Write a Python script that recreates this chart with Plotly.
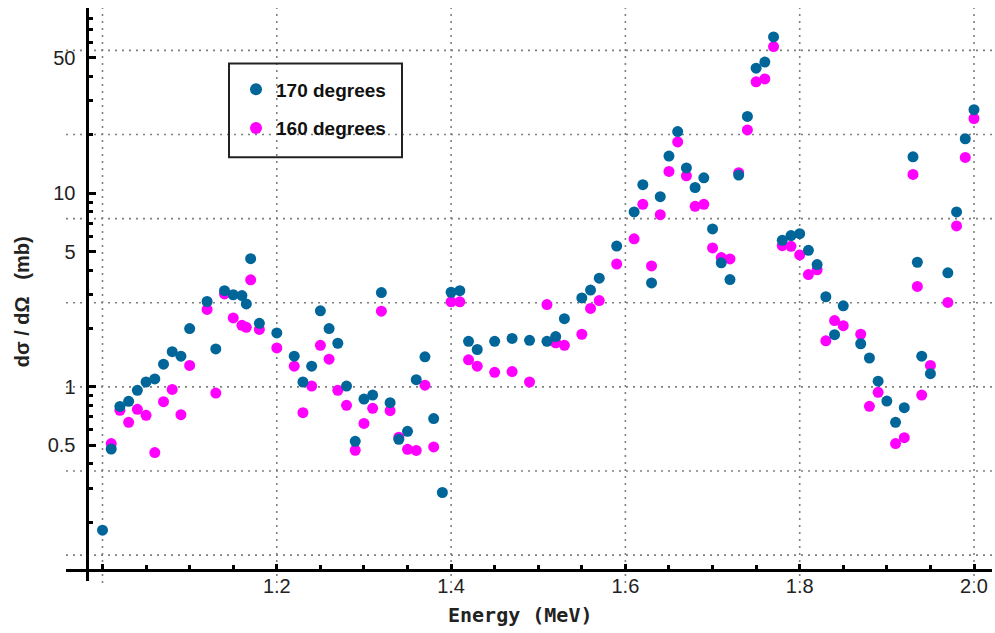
import math
import plotly.graph_objects as go

# Differential cross section vs. proton energy at two detector angles
energy_170 = [1.00, 1.01, 1.02, 1.03, 1.04, 1.05, 1.06, 1.07, 1.08, 1.09, 1.10, 1.12, 1.13, 1.14,
              1.15, 1.16, 1.165, 1.17, 1.18, 1.20, 1.22, 1.23, 1.24, 1.25, 1.26, 1.27, 1.28, 1.29,
              1.30, 1.31, 1.32, 1.33, 1.34, 1.35, 1.36, 1.37, 1.38, 1.39, 1.40, 1.41, 1.42, 1.43,
              1.45, 1.47, 1.49, 1.51, 1.52, 1.53, 1.55, 1.56, 1.57, 1.59, 1.61, 1.62, 1.63, 1.64,
              1.65, 1.66, 1.67, 1.68, 1.69, 1.70, 1.71, 1.72, 1.73, 1.74, 1.75, 1.76, 1.77, 1.78,
              1.79, 1.80, 1.81, 1.82, 1.83, 1.84, 1.85, 1.87, 1.88, 1.89, 1.90, 1.91, 1.92, 1.93,
              1.935, 1.94, 1.95, 1.97, 1.98, 1.99, 2.00]
sigma_170 = [0.182, 0.478, 0.793, 0.842, 0.96, 1.06, 1.10, 1.31, 1.52, 1.44, 2.00, 2.76, 1.57, 3.14,
             2.99, 2.96, 2.68, 4.59, 2.13, 1.90, 1.44, 1.06, 1.28, 2.47, 2.00, 1.68, 1.01, 0.524,
             0.865, 0.908, 3.07, 0.829, 0.536, 0.59, 1.09, 1.43, 0.686, 0.285, 3.08, 3.14, 1.72, 1.56,
             1.72, 1.78, 1.74, 1.72, 1.82, 2.25, 2.88, 3.16, 3.64, 5.33, 8.0, 11.06, 3.44, 9.59,
             15.55, 20.8, 13.5, 10.7, 12.0, 6.54, 4.37, 3.58, 12.4, 24.9, 44.2, 47.5, 64.1, 5.71,
             6.04, 6.18, 5.07, 4.28, 2.92, 1.86, 2.62, 1.67, 1.41, 1.07, 0.845, 0.656, 0.781, 15.4,
             4.40, 1.44, 1.17, 3.88, 8.0, 19.1, 27.0]

energy_160 = [1.01, 1.02, 1.03, 1.04, 1.05, 1.06, 1.07, 1.08, 1.09, 1.10, 1.12, 1.13, 1.14,
              1.15, 1.16, 1.165, 1.17, 1.18, 1.20, 1.22, 1.23, 1.24, 1.25, 1.26, 1.27, 1.28, 1.29,
              1.30, 1.31, 1.32, 1.33, 1.34, 1.35, 1.36, 1.37, 1.38, 1.40, 1.41, 1.42, 1.43,
              1.45, 1.47, 1.49, 1.51, 1.52, 1.53, 1.55, 1.56, 1.57, 1.59, 1.61, 1.62, 1.63, 1.64,
              1.65, 1.66, 1.67, 1.68, 1.69, 1.70, 1.71, 1.72, 1.73, 1.74, 1.75, 1.76, 1.77, 1.78,
              1.79, 1.80, 1.81, 1.82, 1.83, 1.84, 1.85, 1.87, 1.88, 1.89, 1.91, 1.92, 1.93,
              1.935, 1.94, 1.95, 1.97, 1.98, 1.99, 2.00]
sigma_160 = [0.51, 0.757, 0.656, 0.766, 0.713, 0.458, 0.839, 0.97, 0.719, 1.29, 2.51, 0.929, 3.02,
             2.27, 2.08, 2.03, 3.57, 1.98, 1.59, 1.28, 0.736, 1.01, 1.64, 1.39, 0.96, 0.803, 0.471,
             0.648, 0.775, 2.46, 0.754, 0.55, 0.476, 0.47, 1.02, 0.49, 2.75, 2.75, 1.38, 1.28,
             1.19, 1.20, 1.06, 2.66, 1.69, 1.64, 1.87, 2.54, 2.79, 4.31, 5.81, 8.76, 4.21, 7.75,
             12.95, 18.4, 12.3, 8.55, 8.76, 5.22, 4.65, 4.58, 12.76, 21.2, 37.6, 38.9, 57.1, 5.36,
             5.32, 4.80, 3.80, 4.02, 1.73, 2.20, 2.07, 1.87, 0.794, 0.937, 0.51, 0.547, 12.5,
             3.30, 0.908, 1.29, 2.73, 6.78, 15.3, 24.3]

x_tick_vals = [1.0, 1.2, 1.4, 1.6, 1.8, 2.0]
x_tick_text = ["", "1.2", "1.4", "1.6", "1.8", "2.0"]
y_tick_vals = [0.5, 1, 5, 10, 50]
y_tick_text = ["0.5", "1", "5", "10", "50"]
y_minor_vals = [m * 10.0 ** d for d in (-1, 0, 1) for m in range(1, 10)
                if m * 10.0 ** d not in y_tick_vals and m * 10.0 ** d <= 90]
y_grid_vals = [math.exp(k) for k in range(-2, 5)]

W, H = 995, 633
L, R, T, B = 66, 3, 7.5, 52
plot_w = W - L - R
plot_h = H - T - B


def px_x(px):
    return (px - L) / plot_w


def px_y(py):
    return (H - B - py) / plot_h


BLUE = "#006699"
MAGENTA = "#FF00FF"

fig = go.Figure()
fig.add_trace(go.Scatter(
    x=energy_160, y=sigma_160, mode="markers", name="160 degrees",
    marker=dict(size=11, color=MAGENTA, line=dict(width=0)),
    legendgroup="b", legendrank=2,
))
fig.add_trace(go.Scatter(
    x=energy_170, y=sigma_170, mode="markers", name="170 degrees",
    marker=dict(size=11, color=BLUE, line=dict(width=0)),
    legendgroup="a", legendrank=1,
))

shapes = []
grid_line = dict(color="#7f7f7f", width=1.6, dash="2px,5px")
for gv in y_grid_vals:
    shapes.append(dict(type="line", xref="paper", yref="y", x0=0, x1=1,
                       y0=gv, y1=gv, line=grid_line, layer="below"))
for gx in x_tick_vals:
    shapes.append(dict(type="line", xref="x", yref="paper", x0=gx, x1=gx,
                       y0=px_y(583), y1=1, line=grid_line, layer="below"))
# legend frame
shapes.append(dict(type="rect", xref="paper", yref="paper",
                   x0=px_x(229), x1=px_x(402), y0=px_y(157), y1=px_y(63),
                   line=dict(color="#222222", width=2), fillcolor="rgba(0,0,0,0)"))

fig.update_layout(
    width=W, height=H,
    margin=dict(l=L, r=R, t=T, b=B),
    plot_bgcolor="white", paper_bgcolor="white",
    shapes=shapes,
    showlegend=True,
    legend=dict(
        x=px_x(236), y=px_y(70), xanchor="left", yanchor="top",
        bgcolor="rgba(0,0,0,0)", borderwidth=0,
        font=dict(family="Liberation Sans, Arial", size=19, color="#111111", weight="bold"),
        tracegroupgap=11, itemsizing="constant", itemwidth=30,
    ),
    xaxis=dict(
        range=[1 + (L - 102.5) / 871.5, 1 + (W - R - 102.5) / 871.5],
        anchor="free", position=px_y(570),
        showline=True, linewidth=3, linecolor="black",
        showgrid=False, zeroline=False,
        tickvals=x_tick_vals, ticktext=x_tick_text,
        ticks="inside", ticklen=5, tickwidth=3, tickcolor="black",
        minor=dict(dtick=0.05, tick0=1.0, ticks="inside", ticklen=4, tickwidth=3,
                   tickcolor="black", showgrid=False),
        tickfont=dict(family="Liberation Sans, Arial", size=20, color="#222222"),
        ticklabelstandoff=-3,
    ),
    yaxis=dict(
        type="log",
        range=[-1.002, 1.956],
        anchor="free", position=px_x(86.5),
        showline=True, linewidth=3, linecolor="black",
        showgrid=False, zeroline=False,
        tickvals=y_tick_vals, ticktext=y_tick_text,
        ticks="inside", ticklen=7, tickwidth=3, tickcolor="black",
        minor=dict(tickvals=y_minor_vals, ticks="inside", ticklen=4, tickwidth=3,
                   tickcolor="black", showgrid=False),
        tickfont=dict(family="Liberation Sans, Arial", size=20, color="#222222"),
        ticklabelstandoff=6,
    ),
    annotations=[
        dict(text="Energy (MeV)", xref="paper", yref="paper",
             x=px_x(520), y=px_y(615), xanchor="center", yanchor="middle",
             showarrow=False,
             font=dict(family="DejaVu Sans Mono", size=20,
                       color="#222222", weight="bold")),
        dict(text="dσ / dΩ   (mb)", xref="paper", yref="paper",
             x=px_x(22), y=px_y(302), xanchor="center", yanchor="middle",
             textangle=-90, showarrow=False,
             font=dict(family="Liberation Sans, Arial", size=20,
                       color="#222222", weight="bold")),
    ],
)

fig.write_html("out.html")
